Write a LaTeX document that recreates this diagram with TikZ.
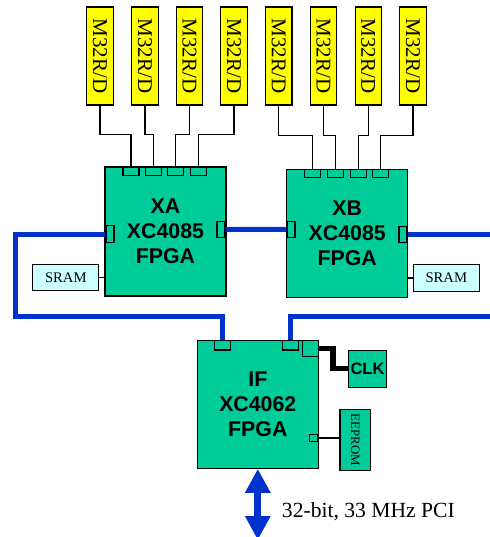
\documentclass[tikz,border=0pt]{standalone}
\usepackage{fontspec}
\setmainfont{Liberation Serif}
\setsansfont{Liberation Sans}
\usepackage{graphicx}
\usepackage{xcolor}
\usepackage{tikz}
\usetikzlibrary{arrows.meta, positioning, calc}
\definecolor{fpgagreen}{HTML}{00CC99}
\definecolor{cpuyellow}{HTML}{FFFF00}
\definecolor{sramcyan}{HTML}{CCFFFF}
\definecolor{busblue}{HTML}{0033CC}

\begin{document}
\begin{tikzpicture}[
    x=0.75pt, y=-0.75pt,
    cpu/.style={rectangle, draw, line width=0.8pt, fill=cpuyellow, inner sep=0pt,
                minimum width=19.9pt, minimum height=73.5pt,
                font=\fontsize{15.75}{16}\selectfont},
    fpga/.style={rectangle, draw, line width=0.8pt, fill=fpgagreen, align=center,
                 inner sep=0pt, minimum width=90.75pt,
                 font=\fontsize{16}{18.75}\selectfont\sffamily\bfseries},
    pad/.style={rectangle, draw, line width=0.8pt, fill=fpgagreen, inner sep=0pt,
                minimum width=12pt, minimum height=6.4pt},
    vpad/.style={pad, minimum width=6pt, minimum height=12.4pt},
    sram/.style={rectangle, draw, line width=0.8pt, fill=sramcyan, inner sep=0pt,
                 minimum width=49.7pt, minimum height=20.1pt,
                 font=\fontsize{11}{13}\selectfont},
    wire/.style={line width=1pt},
    bus/.style={line width=3.75pt, busblue},
    pcibus/.style={line width=5.25pt, busblue,
                   {Triangle[length=18pt,width=18pt]}-{Triangle[length=18pt,width=18pt]}}
  ]
  \useasboundingbox (0,0) rectangle (490,537);
  \clip (0,0) rectangle (490,537);

  % processors
  \foreach \i/\x in {1/100,2/145,3/189.5,4/234,5/278.7,6/323.5,7/368.3,8/413}
    \node[cpu] (m\i) at (\x,56) {\rotatebox{-90}{M32R/D}};

  % FPGAs
  \node[fpga, minimum height=96.75pt] (xa) at (165.5,231.5) {XA\\XC4085\\FPGA};
  \node[fpga, minimum height=95.8pt] (xb) at (347.2,233.2) {XB\\XC4085\\FPGA};
  \node[fpga, minimum height=95.7pt] (if) at (257.8,404.5) {IF\\XC4062\\FPGA};

  \node[sram] (sa) at (65.8,277.5) {SRAM};
  \node[sram] (sb) at (446.3,278) {SRAM};
  \node[fpga, minimum width=28.8pt, minimum height=28pt,
        font=\fontsize{12.4}{14}\selectfont\sffamily\bfseries] (clk) at (367.5,368.7) {CLK};
  \node[fpga, minimum width=23pt, minimum height=45.5pt,
        font=\fontsize{9.6}{11}\selectfont] (ee) at (355.3,439.7) {\rotatebox{-90}{EEPROM}};

  % pads
  \foreach \i/\x in {1/131,2/153.3,3/175.6,4/198.3}
    \node[pad] (pa\i) at (\x,171.5) {};
  \foreach \i/\x in {1/312.8,2/335.7,3/358.3,4/380.8}
    \node[pad] (pb\i) at (\x,173.5) {};
  \node[vpad] (xal) at (110,234) {};
  \node[vpad] (xar) at (221,229.5) {};
  \node[vpad] (xbl) at (291,229.3) {};
  \node[vpad] (xbr) at (403,234.3) {};
  \node[pad, minimum width=11.8pt, minimum height=7pt] (pi1) at (222.8,345.3) {};
  \node[pad, minimum width=11.8pt, minimum height=7pt] (pi2) at (290.5,345.3) {};
  \node[pad, minimum width=11.7pt, minimum height=11.7pt] (pc) at (310.5,348.7) {};
  \node[pad, minimum width=5.8pt, minimum height=5.8pt] (pe) at (313.8,438) {};

  \foreach \i in {1,...,4}
    \draw[wire] (m\i.south) -- ++(0,29) -| (pa\i.north);
  \foreach \i/\j in {5/1,6/2,7/3,8/4}
    \draw[wire] (m\i.south) -- ++(0,30) -| (pb\j.north);

  \draw[wire] (sa.east) -- (sa.east -| xa.west);
  \draw[wire] (sb.west) -- (sb.west -| xb.east);

  % buses
  \coordinate (busL) at (15,316);
  \coordinate (busR1) at (490,234.3);
  \coordinate (busR2) at (490,316);
  \draw[bus] (xar.east) -- (xbl.west);
  \draw[bus] (xbr.east) -- (busR1);
  \draw[bus] (xal.west) -| (busL) -| (pi1.north);
  \draw[bus] (pi2.north) |- (busR2);

  \draw[line width=4pt] (pc.east) -- ++(14,0) |- (clk.west);
  \draw[line width=1.5pt] (pe.east) -- (pe.east -| ee.west);

  \coordinate (pcib) at (257.8,540);
  \draw[pcibus] (if.south) -- (pcib);
  \node[anchor=west, inner sep=0pt, font=\fontsize{16.2}{18}\selectfont] (pci)
    at (281.7,511.7) {32-bit, 33 MHz PCI};

\end{tikzpicture}
\end{document}
